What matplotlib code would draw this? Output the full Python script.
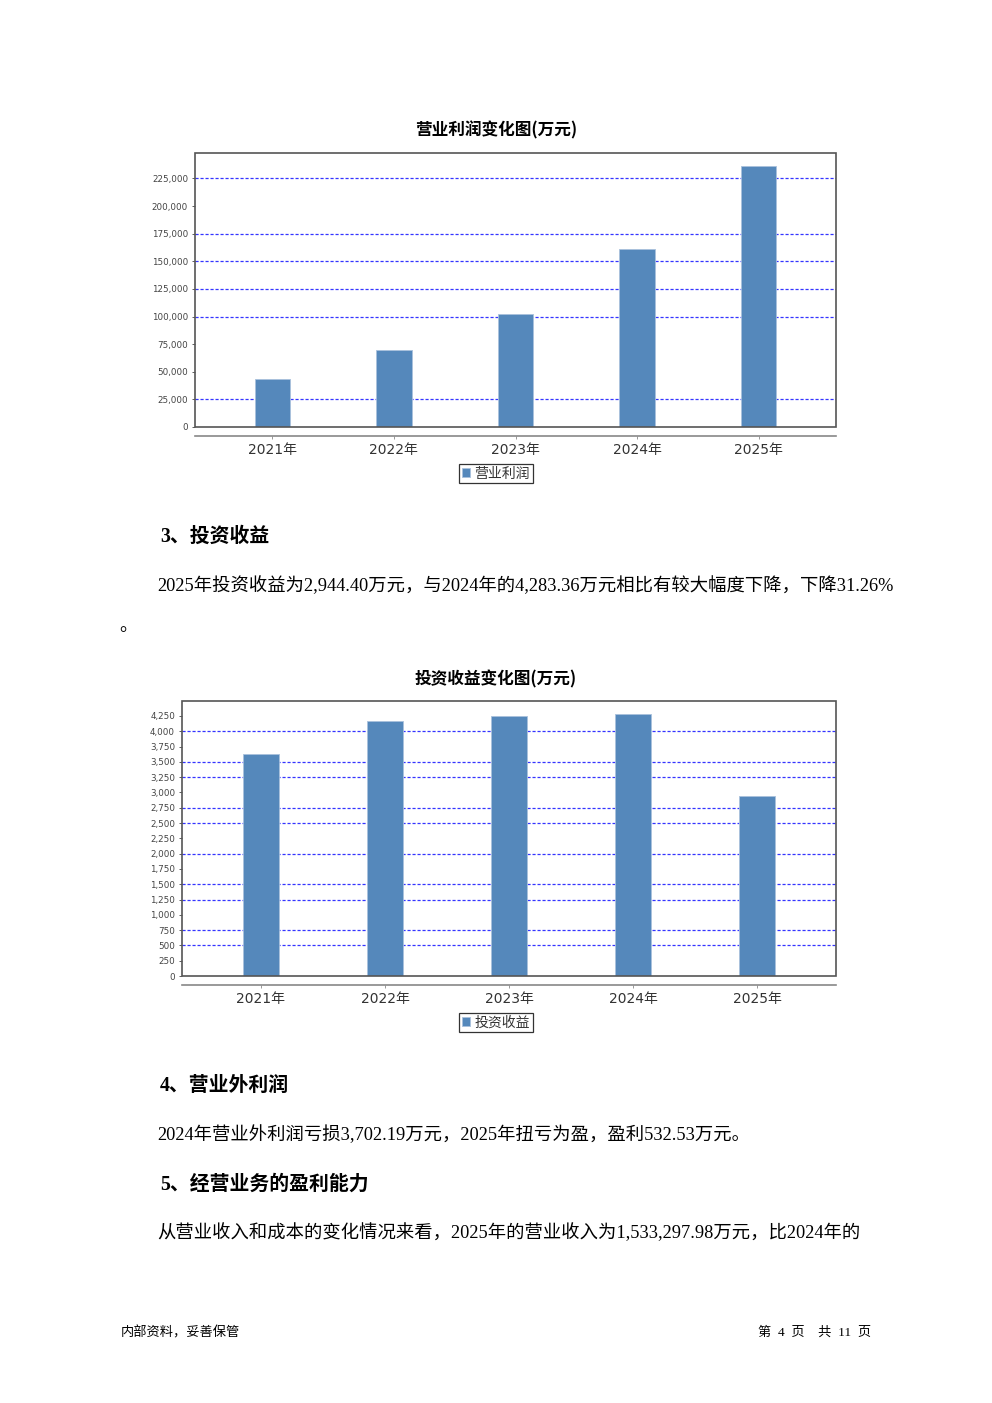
import numpy as np
import matplotlib
matplotlib.use("Agg")
import matplotlib.pyplot as plt
from matplotlib.patches import Rectangle
from matplotlib.ticker import FuncFormatter, MultipleLocator

plt.rcParams['font.family'] = ['DejaVu Sans', 'Noto Sans CJK SC']

years = ['2021年', '2022年', '2023年', '2024年', '2025年']
op_profit = [43400, 69400, 102200, 160800, 236100]
inv_income = [3629, 4163, 4251, 4283.36, 2944.40]
op_grid = [25000, 100000, 125000, 150000, 175000, 225000]
inv_grid = [500, 750, 1250, 1500, 2000, 2500, 2750, 3250, 3500, 4000]

bar_color = '#5588bb'
grid_color = '#3535ff'
serif_cjk = ['Liberation Serif', 'Noto Sans CJK SC']
sans_cjk = ['Noto Sans CJK SC', 'DejaVu Sans']

W, H = 992, 1403
fig = plt.figure(figsize=(W / 100, H / 100), dpi=100)


def px(x, y):
    return x / W, 1 - y / H


def draw_chart(rect, values, ymax, step, grid_vals, title, title_y, series, legend_y):
    l, t, r, b = rect
    ax = fig.add_axes([l / W, 1 - b / H, (r - l) / W, (b - t) / H])
    x = np.arange(len(years))
    ax.bar(x, values, width=0.29, color=bar_color, edgecolor='#a9c1dc',
           linewidth=0.6, label=series, zorder=3)
    for g in grid_vals:
        ax.axhline(g, color=grid_color, lw=0.9, ls=(0, (2.5, 1.5)), zorder=1)
    ax.set_xlim(-0.5 - 0.136, len(years) - 0.5 + 0.136)
    ax.set_ylim(0, ymax)
    ax.yaxis.set_major_locator(MultipleLocator(step))
    ax.yaxis.set_major_formatter(FuncFormatter(lambda v, p: f'{int(v):,}'))
    ax.set_xticks(x)
    ax.set_xticklabels(years, fontsize=7.2, color='#333333')
    ax.tick_params(axis='y', labelsize=6.3, colors='#444444', length=2, width=0.6, pad=3)
    ax.tick_params(axis='x', length=2, width=0.6, colors='#888888', labelcolor='#333333', pad=3)
    for s in ['top', 'right', 'left']:
        ax.spines[s].set_visible(False)
    ax.spines['bottom'].set_position(('outward', 6.5))
    ax.spines['bottom'].set_color('#888888')
    ax.spines['bottom'].set_linewidth(1.2)
    ax.add_patch(Rectangle((0, 0), 1, 1, transform=ax.transAxes, fill=False,
                           edgecolor='#555555', lw=1.2, clip_on=False, zorder=5))
    fig.text(*px(496, title_y), title, ha='center', va='center', fontsize=12,
             fontweight='bold', family=sans_cjk)
    leg = ax.legend(loc='center', bbox_to_anchor=px(496, legend_y),
                    bbox_transform=fig.transFigure, fontsize=10, frameon=True,
                    fancybox=False, edgecolor='black', handlelength=0.6,
                    handleheight=0.6, handletextpad=0.3, borderpad=0.2,
                    borderaxespad=0)
    leg.get_frame().set_linewidth(0.9)
    for txt in leg.get_texts():
        txt.set_color('#333333')
    return ax


draw_chart((195, 153, 836, 427), op_profit, 248000, 25000, op_grid,
           '营业利润变化图(万元)', 130, '营业利润', 473.5)
draw_chart((182, 701, 836, 976), inv_income, 4495, 250, inv_grid,
           '投资收益变化图(万元)', 679, '投资收益', 1022.5)

# document text
fig.text(*px(160, 537), '3、投资收益', fontsize=14.3, fontweight='bold',
         family=serif_cjk, va='center')
fig.text(*px(157, 586),
         '2025年投资收益为2,944.40万元，与2024年的4,283.36万元相比有较大幅度下降，下降31.26%',
         fontsize=13.2, family=serif_cjk, va='center')
fig.text(*px(119, 627), '。', fontsize=13.2, family=serif_cjk, va='center')
fig.text(*px(160, 1086), '4、营业外利润', fontsize=14.3, fontweight='bold',
         family=serif_cjk, va='center')
fig.text(*px(157, 1135),
         '2024年营业外利润亏损3,702.19万元，2025年扭亏为盈，盈利532.53万元。',
         fontsize=13.2, family=serif_cjk, va='center')
fig.text(*px(160, 1185), '5、经营业务的盈利能力', fontsize=14.3, fontweight='bold',
         family=serif_cjk, va='center')
fig.text(*px(157, 1233),
         '从营业收入和成本的变化情况来看，2025年的营业收入为1,533,297.98万元，比2024年的',
         fontsize=13.2, family=serif_cjk, va='center')

# footer
fig.text(*px(121, 1333), '内部资料，妥善保管', fontsize=9.5, family=serif_cjk, va='center')
fig.text(*px(871, 1333), '第  4  页    共  11  页', fontsize=9.5, family=serif_cjk,
         va='center', ha='right')

fig.savefig('out.png', dpi=100)
